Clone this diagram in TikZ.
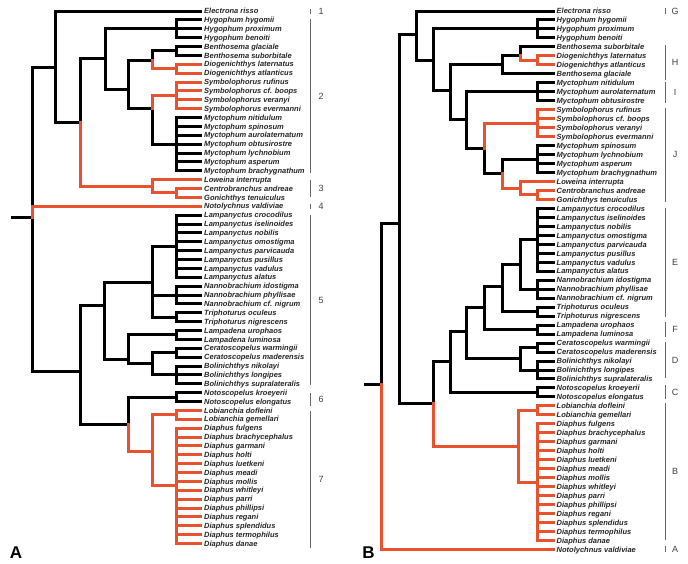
\documentclass[tikz,border=0pt]{standalone}
\usepackage{fontspec}
\setmainfont{Liberation Sans}
\setsansfont{Liberation Sans}
\definecolor{hlred}{RGB}{232,82,47}

\begin{document}
\begin{tikzpicture}[
  x=1pt,y=-1pt,
  font=\sffamily,
  tip/.style={anchor=west,inner xsep=3.5pt,inner ysep=0pt,text height=5.4pt,text depth=0pt,
    font=\fontsize{7.5}{8}\selectfont\bfseries\itshape,text=black!85},
  branch/.style={line width=3pt,line cap=rect,draw=black},
  hlbranch/.style={branch,draw=hlred},
  bar/.style={draw=black!60,line width=1pt},
  barlabel/.style={font=\fontsize{9}{10}\selectfont,text=black!75},
  panel/.style={font=\fontsize{17}{18}\selectfont\bfseries}
]
\useasboundingbox (0,0) rectangle (688,563);

% tree A
\coordinate (astub) at (12,217);
\coordinate (aroot) at (32,217);
\coordinate (au) at (55,67);
\coordinate (aA) at (80,122.7);
\coordinate (aB) at (105,58.7);
\coordinate (aC) at (128,89.3);
\coordinate (aD) at (152,60);
\coordinate (aE) at (152,108.7);
\coordinate (aLo) at (152,186);
\coordinate (aL) at (80,371);
\coordinate (aM) at (104,305.7);
\coordinate (aP) at (152,282.3);
\coordinate (aQ) at (128,359);
\coordinate (aR) at (152,363.8);
\coordinate (aN) at (128,424.3);
\coordinate (aT) at (152,451);
\foreach \n/\y in {aHyg/28.75,aBen/50.94,aDio/68.69,aSym/95.31,aMyc/144.13,aCen/192.94,
  aLam/246.19,aNan/295,aTri/317.19,aLmp/334.94,aCer/352.69,aBol/374.88,aNot/397.06,
  aLob/414.81,aDia/485.81}
  \coordinate (\n) at (176,\y);

\draw[branch] (astub) -- (aroot);
\foreach \a/\b in {aroot/au,aroot/aL,au/aA,aA/aB,aB/aHyg,aB/aC,aC/aD,aC/aE,aD/aBen,aE/aMyc,
  aL/aM,aL/aN,aM/aP,aM/aQ,aP/aLam,aP/aNan,aP/aTri,aQ/aLmp,aQ/aR,aR/aCer,aR/aBol,aN/aNot}
  \draw[branch] (\a) |- (\b);

\foreach \sp/\up/\sty [count=\i] in {
  Electrona risso/au/branch,
  Hygophum hygomii/aHyg/branch, Hygophum proximum/aHyg/branch, Hygophum benoiti/aHyg/branch,
  Benthosema glaciale/aBen/branch, Benthosema suborbitale/aBen/branch,
  Diogenichthys laternatus/aDio/hlbranch, Diogenichthys atlanticus/aDio/hlbranch,
  Symbolophorus rufinus/aSym/hlbranch, Symbolophorus cf. boops/aSym/hlbranch,
  Symbolophorus veranyi/aSym/hlbranch, Symbolophorus evermanni/aSym/hlbranch,
  Myctophum nitidulum/aMyc/branch, Myctophum spinosum/aMyc/branch,
  Myctophum aurolaternatum/aMyc/branch, Myctophum obtusirostre/aMyc/branch,
  Myctophum lychnobium/aMyc/branch, Myctophum asperum/aMyc/branch,
  Myctophum brachygnathum/aMyc/branch,
  Loweina interrupta/aLo/hlbranch,
  Centrobranchus andreae/aCen/hlbranch, Gonichthys tenuiculus/aCen/hlbranch,
  Notolychnus valdiviae/aroot/hlbranch,
  Lampanyctus crocodilus/aLam/branch, Lampanyctus iselinoides/aLam/branch,
  Lampanyctus nobilis/aLam/branch, Lampanyctus omostigma/aLam/branch,
  Lampanyctus parvicauda/aLam/branch, Lampanyctus pusillus/aLam/branch,
  Lampanyctus vadulus/aLam/branch, Lampanyctus alatus/aLam/branch,
  Nannobrachium idostigma/aNan/branch, Nannobrachium phyllisae/aNan/branch,
  Nannobrachium cf. nigrum/aNan/branch,
  Triphoturus oculeus/aTri/branch, Triphoturus nigrescens/aTri/branch,
  Lampadena urophaos/aLmp/branch, Lampadena luminosa/aLmp/branch,
  Ceratoscopelus warmingii/aCer/branch, Ceratoscopelus maderensis/aCer/branch,
  Bolinichthys nikolayi/aBol/branch, Bolinichthys longipes/aBol/branch,
  Bolinichthys supralateralis/aBol/branch,
  Notoscopelus kroeyerii/aNot/branch, Notoscopelus elongatus/aNot/branch,
  Lobianchia dofleini/aLob/hlbranch, Lobianchia gemellari/aLob/hlbranch,
  Diaphus fulgens/aDia/hlbranch, Diaphus brachycephalus/aDia/hlbranch,
  Diaphus garmani/aDia/hlbranch, Diaphus holti/aDia/hlbranch,
  Diaphus luetkeni/aDia/hlbranch, Diaphus meadi/aDia/hlbranch,
  Diaphus mollis/aDia/hlbranch, Diaphus whitleyi/aDia/hlbranch,
  Diaphus parri/aDia/hlbranch, Diaphus phillipsi/aDia/hlbranch,
  Diaphus regani/aDia/hlbranch, Diaphus splendidus/aDia/hlbranch,
  Diaphus termophilus/aDia/hlbranch, Diaphus danae/aDia/hlbranch}{
  \node[tip] (a\i) at (200.5,{11+(\i-1)*8.875}) {\sp};
  \draw[\sty] (\up) |- (a\i.west);
}

\foreach \a/\b in {aA/aLo,aD/aDio,aE/aSym,aLo/aCen,aN/aT,aT/aLob,aT/aDia}
  \draw[hlbranch] (\a) |- (\b);

\foreach \ya/\yb/\lab [count=\k] in {8.5/13.5/1,19/173/2,180/197/3,204/209/4,215/385/5,
  393/406/6,411/548/7}{
  \draw[bar] (310,\ya) -- (310,\yb);
  \node[barlabel] (ga\k) at (321,{(\ya+\yb)/2}) {\lab};
}
\node[panel] (pa) at (16,553) {A};

% tree B
\coordinate (bstub) at (365,384);
\coordinate (broot) at (381.7,384);
\coordinate (b2) at (399.3,223);
\coordinate (bA) at (416,34.3);
\coordinate (bB) at (433,60.3);
\coordinate (bC) at (450,90);
\coordinate (bD) at (502.3,64.4);
\coordinate (bE) at (520,55);
\coordinate (bF) at (466.7,119.3);
\coordinate (bG) at (484.3,148.3);
\coordinate (bH) at (502.3,173.3);
\coordinate (bI) at (520,188);
\coordinate (bJ) at (433,403.3);
\coordinate (bK) at (450,361.7);
\coordinate (bL) at (466.7,331.7);
\coordinate (bM) at (484.3,307.7);
\coordinate (bO) at (502.3,286.7);
\coordinate (bP) at (520,264.3);
\coordinate (bN) at (520,358);
\coordinate (bT) at (518.3,446.7);
\foreach \n/\y in {bHyg/28.95,bDio/60.36,bMI/91.78,bSym/123.19,bMJ/159.09,bCen/194.99,
  bLam/239.86,bNan/289.23,bTri/311.66,bLmp/329.61,bCer/347.56,bBol/370,bNot/392.44,
  bLob/410.39,bDia/482.19}
  \coordinate (\n) at (537.7,\y);

\draw[branch] (bstub) -- (broot);
\foreach \a/\b in {broot/b2,b2/bA,b2/bJ,bA/bB,bB/bHyg,bB/bC,bC/bD,bC/bF,bD/bE,bF/bMI,bF/bG,
  bG/bH,bH/bMJ,bJ/bK,bK/bL,bK/bNot,bL/bM,bL/bN,bM/bO,bM/bLmp,bO/bP,bO/bTri,bP/bLam,bP/bNan,
  bN/bCer,bN/bBol}
  \draw[branch] (\a) |- (\b);

\foreach \sp/\up/\sty [count=\i] in {
  Electrona risso/bA/branch,
  Hygophum hygomii/bHyg/branch, Hygophum proximum/bHyg/branch, Hygophum benoiti/bHyg/branch,
  Benthosema suborbitale/bE/branch,
  Diogenichthys laternatus/bDio/hlbranch, Diogenichthys atlanticus/bDio/hlbranch,
  Benthosema glaciale/bD/branch,
  Myctophum nitidulum/bMI/branch, Myctophum aurolaternatum/bMI/branch,
  Myctophum obtusirostre/bMI/branch,
  Symbolophorus rufinus/bSym/hlbranch, Symbolophorus cf. boops/bSym/hlbranch,
  Symbolophorus veranyi/bSym/hlbranch, Symbolophorus evermanni/bSym/hlbranch,
  Myctophum spinosum/bMJ/branch, Myctophum lychnobium/bMJ/branch,
  Myctophum asperum/bMJ/branch, Myctophum brachygnathum/bMJ/branch,
  Loweina interrupta/bI/hlbranch,
  Centrobranchus andreae/bCen/hlbranch, Gonichthys tenuiculus/bCen/hlbranch,
  Lampanyctus crocodilus/bLam/branch, Lampanyctus iselinoides/bLam/branch,
  Lampanyctus nobilis/bLam/branch, Lampanyctus omostigma/bLam/branch,
  Lampanyctus parvicauda/bLam/branch, Lampanyctus pusillus/bLam/branch,
  Lampanyctus vadulus/bLam/branch, Lampanyctus alatus/bLam/branch,
  Nannobrachium idostigma/bNan/branch, Nannobrachium phyllisae/bNan/branch,
  Nannobrachium cf. nigrum/bNan/branch,
  Triphoturus oculeus/bTri/branch, Triphoturus nigrescens/bTri/branch,
  Lampadena urophaos/bLmp/branch, Lampadena luminosa/bLmp/branch,
  Ceratoscopelus warmingii/bCer/branch, Ceratoscopelus maderensis/bCer/branch,
  Bolinichthys nikolayi/bBol/branch, Bolinichthys longipes/bBol/branch,
  Bolinichthys supralateralis/bBol/branch,
  Notoscopelus kroeyerii/bNot/branch, Notoscopelus elongatus/bNot/branch,
  Lobianchia dofleini/bLob/hlbranch, Lobianchia gemellari/bLob/hlbranch,
  Diaphus fulgens/bDia/hlbranch, Diaphus brachycephalus/bDia/hlbranch,
  Diaphus garmani/bDia/hlbranch, Diaphus holti/bDia/hlbranch,
  Diaphus luetkeni/bDia/hlbranch, Diaphus meadi/bDia/hlbranch,
  Diaphus mollis/bDia/hlbranch, Diaphus whitleyi/bDia/hlbranch,
  Diaphus parri/bDia/hlbranch, Diaphus phillipsi/bDia/hlbranch,
  Diaphus regani/bDia/hlbranch, Diaphus splendidus/bDia/hlbranch,
  Diaphus termophilus/bDia/hlbranch, Diaphus danae/bDia/hlbranch,
  Notolychnus valdiviae/broot/hlbranch}{
  \node[tip] (b\i) at (553,{11+(\i-1)*8.975}) {\sp};
  \draw[\sty] (\up) |- (b\i.west);
}

\foreach \a/\b in {bE/bDio,bG/bSym,bH/bI,bI/bCen,bJ/bT,bT/bLob,bT/bDia}
  \draw[hlbranch] (\a) |- (\b);

\foreach \ya/\yb/\lab [count=\k] in {8/14/G,45/80/H,82/103/I,108/201.5/J,208/317/E,
  322/337/F,342/378/D,385/399/C,403/540/B,546/552/A}{
  \draw[bar] (665,\ya) -- (665,\yb);
  \node[barlabel] (gb\k) at (675,{(\ya+\yb)/2}) {\lab};
}
\node[panel] (pb) at (368.5,552.5) {B};
\end{tikzpicture}
\end{document}
